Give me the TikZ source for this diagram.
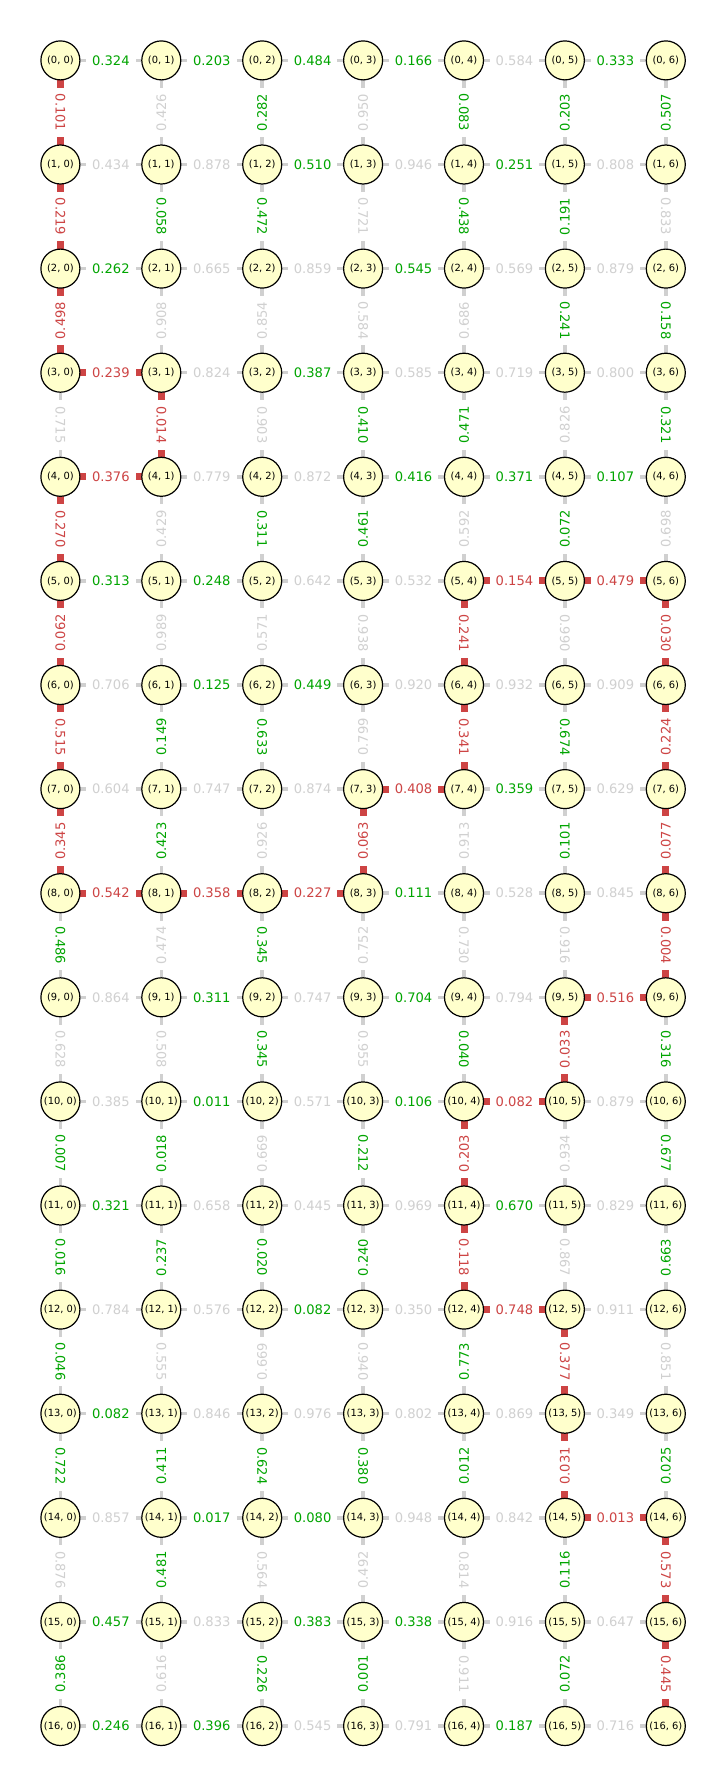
\documentclass[tikz,border=0pt]{standalone}
\usepackage{fontspec}
\setmainfont{DejaVu Sans}
\definecolor{pathred}{RGB}{205,68,68}
\definecolor{treegreen}{RGB}{0,165,0}
\definecolor{edgegray}{RGB}{208,208,208}
\definecolor{vertfill}{RGB}{255,255,204}
\pgfdeclarelayer{edges}
\pgfsetlayers{edges,main}

\tikzset{
  vert/.style={circle,draw=black,line width=1.2pt,fill=vertfill,minimum size=39pt,inner sep=0pt,
    font=\fontsize{9.9}{10}\selectfont},
  ln x/.style={draw=edgegray,line width=3.5pt},
  ln g/.style={draw=edgegray,line width=3.5pt},
  ln r/.style={draw=pathred,line width=7pt},
  wt/.style={fill=white,inner xsep=6pt,inner ysep=2pt,font=\fontsize{13.1}{14}\selectfont},
  wt x/.style={wt,text=edgegray},
  wt g/.style={wt,text=treegreen},
  wt r/.style={wt,text=pathred},
  way d/.style={rotate=-90},
  way u/.style={rotate=90},
}

\begin{document}
\begin{tikzpicture}[x=1pt,y=-1pt]
  \useasboundingbox (0,0) rectangle (725,1788);
  \foreach \rr in {0,...,16}
    \foreach \cc in {0,...,6}
      \node[vert] (v-\rr-\cc) at ({60.4+100.9*\cc},{60.4+104.1*\rr}) {(\rr, \cc)};

  \begin{pgfonlayer}{edges}
  \foreach \line [count=\rr from 0] in {
    {0.324/g,0.203/g,0.484/g,0.166/g,0.584/x,0.333/g},
    {0.434/x,0.878/x,0.510/g,0.946/x,0.251/g,0.808/x},
    {0.262/g,0.665/x,0.859/x,0.545/g,0.569/x,0.879/x},
    {0.239/r,0.824/x,0.387/g,0.585/x,0.719/x,0.800/x},
    {0.376/r,0.779/x,0.872/x,0.416/g,0.371/g,0.107/g},
    {0.313/g,0.248/g,0.642/x,0.532/x,0.154/r,0.479/r},
    {0.706/x,0.125/g,0.449/g,0.920/x,0.932/x,0.909/x},
    {0.604/x,0.747/x,0.874/x,0.408/r,0.359/g,0.629/x},
    {0.542/r,0.358/r,0.227/r,0.111/g,0.528/x,0.845/x},
    {0.864/x,0.311/g,0.747/x,0.704/g,0.794/x,0.516/r},
    {0.385/x,0.011/g,0.571/x,0.106/g,0.082/r,0.879/x},
    {0.321/g,0.658/x,0.445/x,0.969/x,0.670/g,0.829/x},
    {0.784/x,0.576/x,0.082/g,0.350/x,0.748/r,0.911/x},
    {0.082/g,0.846/x,0.976/x,0.802/x,0.869/x,0.349/x},
    {0.857/x,0.017/g,0.080/g,0.948/x,0.842/x,0.013/r},
    {0.457/g,0.833/x,0.383/g,0.338/g,0.916/x,0.647/x},
    {0.246/g,0.396/g,0.545/x,0.791/x,0.187/g,0.716/x}}
  {
    \foreach \val/\kind [count=\cc from 0] in \line {
      \pgfmathtruncatemacro\nx{\cc+1}
      \draw[ln \kind] (v-\rr-\cc.center) -- (v-\rr-\nx.center) node[midway,wt \kind]{\val};
    }
  }

  \foreach \line [count=\rr from 0] in {
    {0.101/r/d,0.426/x/u,0.282/g/u,0.950/x/u,0.083/g/d,0.203/g/u,0.507/g/u},
    {0.219/r/d,0.058/g/d,0.472/g/d,0.721/x/d,0.438/g/d,0.191/g/u,0.833/x/d},
    {0.498/r/u,0.908/x/u,0.854/x/u,0.584/x/d,0.686/x/u,0.241/g/d,0.158/g/d},
    {0.715/x/d,0.014/r/d,0.903/x/d,0.410/g/d,0.471/g/u,0.826/x/u,0.321/g/d},
    {0.270/r/d,0.429/x/u,0.311/g/d,0.461/g/u,0.592/x/u,0.072/g/u,0.698/x/u},
    {0.062/r/u,0.989/x/u,0.571/x/u,0.938/x/d,0.241/r/d,0.990/x/d,0.030/r/d},
    {0.515/r/d,0.149/g/u,0.633/g/d,0.799/x/u,0.341/r/d,0.674/g/d,0.224/r/u},
    {0.345/r/u,0.423/g/u,0.926/x/u,0.063/r/u,0.913/x/u,0.101/g/u,0.077/r/u},
    {0.486/g/d,0.474/x/u,0.345/g/d,0.752/x/u,0.730/x/d,0.916/x/d,0.004/r/d},
    {0.628/x/d,0.508/x/d,0.345/g/d,0.955/x/d,0.040/g/d,0.033/r/u,0.316/g/d},
    {0.007/g/d,0.018/g/u,0.669/x/u,0.212/g/d,0.203/r/u,0.934/x/u,0.677/g/d},
    {0.016/g/d,0.237/g/u,0.020/g/d,0.240/g/u,0.118/r/d,0.867/x/d,0.663/g/u},
    {0.046/g/d,0.555/x/d,0.669/x/u,0.940/x/d,0.773/g/u,0.377/r/d,0.851/x/d},
    {0.722/g/d,0.411/g/u,0.624/g/d,0.380/g/d,0.012/g/u,0.031/r/u,0.025/g/u},
    {0.876/x/d,0.481/g/u,0.564/x/d,0.492/x/u,0.814/x/d,0.116/g/u,0.573/r/d},
    {0.386/g/u,0.616/x/u,0.226/g/d,0.001/g/u,0.911/x/d,0.072/g/u,0.445/r/d}}
  {
    \foreach \val/\kind/\way [count=\cc from 0] in \line {
      \pgfmathtruncatemacro\ny{\rr+1}
      \draw[ln \kind] (v-\rr-\cc.center) -- (v-\ny-\cc.center) node[midway,wt \kind,way \way]{\val};
    }
  }
  \end{pgfonlayer}
\end{tikzpicture}
\end{document}
